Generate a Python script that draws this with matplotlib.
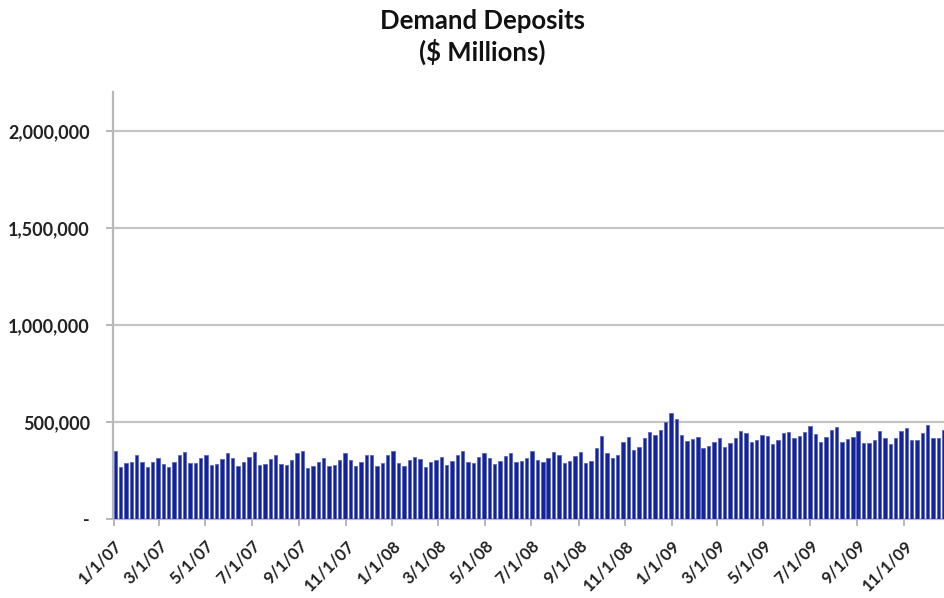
import numpy as np
import matplotlib
matplotlib.use("Agg")
import matplotlib.pyplot as plt
import matplotlib.dates as mdates
from matplotlib.ticker import FuncFormatter

# weekly demand deposits, $ millions (Wednesdays, from 1/3/07)
start_date = "2007-01-03"
deposits = [
    351000, 271000, 290000, 295000, 332000, 298000, 269000, 297000, 314000, 288000,
    271000, 297000, 332000, 345000, 291000, 291000, 314000, 332000, 280000, 286000,
    309000, 343000, 314000, 273000, 295000, 324000, 348000, 280000, 288000, 309000,
    332000, 288000, 278000, 307000, 341000, 350000, 266000, 276000, 297000,
    317000, 273000, 280000, 307000, 343000, 307000, 276000, 297000, 334000, 334000,
    276000, 291000, 330000, 351000, 291000, 276000, 304000, 322000, 311000, 271000,
    295000, 306000, 324000, 282000, 301000, 330000, 353000, 297000, 291000, 322000,
    341000, 315000, 288000, 302000, 329000, 341000, 297000,
    302000, 314000, 350000, 307000, 297000, 317000, 348000, 332000, 290000, 302000,
    327000, 346000, 290000, 299000, 368000, 428000, 343000, 319000, 334000, 397000,
    427000, 358000, 373000, 420000, 450000, 433000, 463000, 500000, 546000, 519000,
    433000, 403000, 413000, 427000, 370000, 377000, 397000, 418000,
    375000, 392000, 421000, 454000, 447000, 399000, 408000, 435000, 428000, 387000,
    411000, 445000, 449000, 418000, 432000, 452000, 481000, 442000, 401000, 425000,
    459000, 476000, 401000, 416000, 425000, 455000, 394000, 392000, 409000, 457000,
    420000, 386000, 420000, 454000, 471000, 409000, 409000, 444000, 486000, 420000,
    420000, 463000,
]
dates = np.arange(np.datetime64(start_date), np.datetime64(start_date) + 7 * len(deposits), 7)
yticks = [0, 500000, 1000000, 1500000, 2000000]

font = "Lato"
fig = plt.figure(figsize=(9.44, 5.98), dpi=100)
ax = fig.add_axes([0.1202, 0.1313, 0.8798, 0.7147])

x = mdates.date2num(dates)
ax.bar(x, deposits, width=4.4, color="#13239e", edgecolor="#5e68bd", linewidth=0.6, zorder=3)

ax.set_xlim(mdates.date2num(np.datetime64("2007-01-01")) - 0.3, x[-1] + 0.4)
ax.set_ylim(0, 2200000)

ax.set_yticks(yticks)
ax.yaxis.set_major_formatter(FuncFormatter(lambda v, p: "-" if v == 0 else f"{int(v):,}"))
ax.yaxis.grid(True, color="#c4c4c4", lw=1.6, zorder=0)
ax.set_axisbelow(True)

ax.xaxis.set_major_locator(mdates.MonthLocator(bymonth=[1, 3, 5, 7, 9, 11]))
ax.xaxis.set_major_formatter(FuncFormatter(lambda v, p: f"{mdates.num2date(v).month}/1/{mdates.num2date(v).strftime('%y')}"))

for s in ["top", "right"]:
    ax.spines[s].set_visible(False)
for s in ["left", "bottom"]:
    ax.spines[s].set_color("#b8b8b8")
    ax.spines[s].set_linewidth(1.6)

ax.tick_params(axis="y", length=5, width=1.4, color="#b8b8b8", pad=12)
ax.tick_params(axis="x", length=5, width=1.4, color="#b8b8b8", pad=8)
for lab in ax.get_yticklabels():
    lab.set_fontfamily(font)
    lab.set_fontweight("bold")
    lab.set_fontsize(13)
    lab.set_color("#222222")
for lab in ax.get_xticklabels():
    lab.set_fontfamily(font)
    lab.set_fontweight("bold")
    lab.set_fontsize(12)
    lab.set_color("#222222")
    lab.set_rotation(45)
    lab.set_ha("right")
    lab.set_va("top")
    lab.set_rotation_mode("anchor")

fig.text(0.511, 0.985, "Demand Deposits\n($ Millions)", ha="center", va="top",
         fontsize=18.5, fontweight="bold", family=font, linespacing=1.25, color="#111111")

fig.savefig("out.png", dpi=100)
